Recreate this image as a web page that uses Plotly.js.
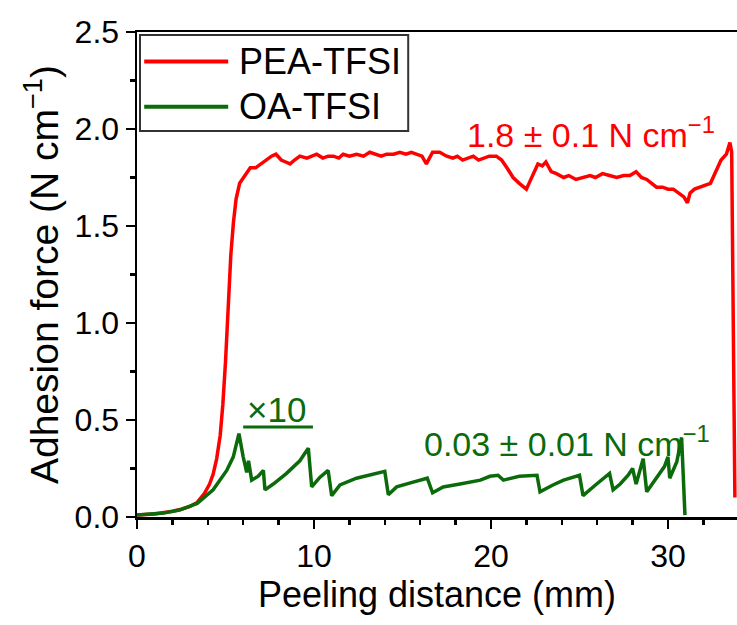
<!DOCTYPE html>
<html>
<head>
<meta charset="utf-8">
<script src="https://cdn.plot.ly/plotly-3.0.1.min.js"></script>
<style>html,body{margin:0;padding:0;background:#fff;}#chart{width:737px;height:625px;}</style>
</head>
<body>
<div id="chart"></div>
<script>
// Peeling distance (mm) and adhesion force (N cm^-1)
const peaX = [0, 1, 2, 2.5, 3, 3.4, 3.8, 4.1, 4.3, 4.5, 4.7, 4.85, 5.0, 5.15, 5.3, 5.45, 5.6, 5.8, 6.1, 6.4, 6.7, 7.0, 7.3, 7.6, 7.85, 8.15, 8.4, 8.65, 8.9, 9.2, 9.6, 9.9, 10.15, 10.5, 10.8, 11.1, 11.4, 11.65, 12.0, 12.4, 12.8, 13.15, 13.5, 13.8, 14.1, 14.5, 14.85, 15.2, 15.5, 15.8, 16.1, 16.35, 16.7, 17.1, 17.5, 17.85, 18.1, 18.4, 18.7, 19.0, 19.3, 19.55, 19.9, 20.3, 20.6, 20.9, 21.25, 21.6, 22.0, 22.2, 22.4, 22.65, 22.9, 23.1, 23.4, 23.7, 24.1, 24.4, 24.8, 25.2, 25.6, 25.9, 26.3, 26.7, 27.1, 27.5, 27.85, 28.2, 28.5, 28.8, 29.1, 29.35, 29.7, 30.0, 30.3, 30.7, 30.9, 31.1, 31.25, 31.5, 31.8, 32.1, 32.4, 32.6, 32.8, 33.0, 33.3, 33.5, 33.6, 33.65, 33.72, 33.78];
const peaY = [0.01, 0.015, 0.03, 0.04, 0.055, 0.075, 0.12, 0.17, 0.22, 0.3, 0.42, 0.58, 0.8, 1.1, 1.35, 1.52, 1.64, 1.72, 1.76, 1.8, 1.8, 1.82, 1.84, 1.86, 1.87, 1.84, 1.83, 1.82, 1.84, 1.86, 1.85, 1.86, 1.87, 1.85, 1.86, 1.86, 1.85, 1.87, 1.86, 1.87, 1.86, 1.88, 1.87, 1.86, 1.87, 1.87, 1.88, 1.87, 1.88, 1.87, 1.86, 1.82, 1.88, 1.88, 1.86, 1.85, 1.86, 1.84, 1.85, 1.86, 1.84, 1.85, 1.86, 1.86, 1.84, 1.8, 1.75, 1.72, 1.69, 1.73, 1.77, 1.82, 1.81, 1.83, 1.78, 1.77, 1.75, 1.76, 1.74, 1.75, 1.76, 1.75, 1.77, 1.76, 1.75, 1.76, 1.76, 1.78, 1.75, 1.74, 1.72, 1.7, 1.7, 1.69, 1.69, 1.66, 1.65, 1.62, 1.67, 1.69, 1.7, 1.71, 1.72, 1.76, 1.8, 1.84, 1.87, 1.93, 1.88, 1.46, 0.77, 0.1];
const oaX = [0, 1.5, 2.4, 3.4, 4.3, 5.07, 5.44, 5.76, 6.0, 6.2, 6.3, 6.48, 6.85, 7.14, 7.23, 7.7, 8.45, 9.2, 9.68, 9.87, 10.34, 10.8, 11.0, 11.47, 12.4, 13.16, 14.0, 14.2, 14.67, 15.6, 16.4, 16.7, 17.3, 18.25, 19.4, 19.94, 20.4, 20.7, 21.6, 22.6, 22.77, 23.5, 24.1, 25.0, 25.2, 25.97, 26.7, 26.9, 27.3, 27.75, 28.0, 28.2, 28.6, 28.8, 29.36, 29.8, 30.0, 30.1, 30.5, 30.77, 30.96];
const oaY = [0.01, 0.02, 0.036, 0.07, 0.14, 0.24, 0.31, 0.43, 0.31, 0.23, 0.29, 0.19, 0.21, 0.24, 0.14, 0.17, 0.225, 0.29, 0.355, 0.155, 0.205, 0.24, 0.11, 0.165, 0.2, 0.215, 0.235, 0.115, 0.155, 0.18, 0.2, 0.125, 0.155, 0.17, 0.19, 0.21, 0.215, 0.19, 0.21, 0.215, 0.13, 0.165, 0.19, 0.215, 0.11, 0.17, 0.225, 0.14, 0.17, 0.215, 0.25, 0.17, 0.30, 0.13, 0.2, 0.26, 0.31, 0.2, 0.285, 0.41, 0.01];
const seriesNames = ["PEA-TFSI", "OA-TFSI"];
const xTicks = [0, 10, 20, 30];
const yTicks = [0.0, 0.5, 1.0, 1.5, 2.0, 2.5];

const RED = "#ff0000", GREEN = "#0b6b0b";
const FONT = "Liberation Sans, Arial, sans-serif";

const traces = [
  {x: peaX, y: peaY, name: seriesNames[0], mode: "lines", line: {color: RED, width: 3.5}, showlegend: false},
  {x: oaX, y: oaY, name: seriesNames[1], mode: "lines", line: {color: GREEN, width: 3.5}, showlegend: false}
];

const layout = {
  width: 737, height: 625,
  margin: {l: 137, r: 0, t: 32, b: 108},
  paper_bgcolor: "#fff", plot_bgcolor: "#fff",
  font: {family: FONT, color: "#000"},
  showlegend: false,
  xaxis: {
    range: [0, 33.9], tickvals: xTicks, ticktext: xTicks.map(String),
    ticks: "outside", ticklen: 9, tickwidth: 2.5, tickcolor: "#000",
    minor: {dtick: 2, tick0: 0, ticks: "outside", ticklen: 5, tickwidth: 2.5, tickcolor: "#000"},
    showline: true, linewidth: 2.5, linecolor: "#000", mirror: true,
    showgrid: false, zeroline: false,
    tickfont: {size: 32, family: FONT},
    title: {text: "Peeling distance (mm)", font: {size: 36, family: FONT}, standoff: 8}
  },
  yaxis: {
    range: [0, 2.5], tickvals: yTicks, ticktext: yTicks.map(v => v.toFixed(1)),
    ticks: "outside", ticklen: 9, tickwidth: 2.5, tickcolor: "#000",
    minor: {dtick: 0.25, tick0: 0, ticks: "outside", ticklen: 5, tickwidth: 2.5, tickcolor: "#000"},
    showline: true, linewidth: 2.5, linecolor: "#000", mirror: false,
    showgrid: false, zeroline: false,
    tickfont: {size: 32, family: FONT},
    title: {text: "Adhesion force (N cm<sup>\u22121</sup>)", font: {size: 39, family: FONT}, standoff: 4}
  },
  shapes: [
    // legend frame
    {type: "rect", xref: "paper", yref: "paper", x0: 0.005, x1: 0.452, y0: 0.796, y1: 0.994, line: {color: "#333", width: 2}, fillcolor: "#fff"},
    {type: "line", xref: "paper", yref: "paper", x0: 0.012, x1: 0.152, y0: 0.939, y1: 0.939, line: {color: RED, width: 4}},
    {type: "line", xref: "paper", yref: "paper", x0: 0.012, x1: 0.152, y0: 0.846, y1: 0.846, line: {color: GREEN, width: 4}},
    // ×10 underline
    {type: "line", xref: "x", yref: "y", x0: 6.0, x1: 9.94, y0: 0.464, y1: 0.464, line: {color: GREEN, width: 3}}
  ],
  annotations: [
    {xref: "paper", yref: "paper", x: 0.167, y: 0.939, xanchor: "left", yanchor: "middle", showarrow: false, text: seriesNames[0], font: {size: 36, color: "#000", family: FONT}},
    {xref: "paper", yref: "paper", x: 0.167, y: 0.846, xanchor: "left", yanchor: "middle", showarrow: false, text: seriesNames[1], font: {size: 36, color: "#000", family: FONT}},
    {xref: "x", yref: "y", x: 25.65, y: 1.98, xanchor: "center", yanchor: "middle", showarrow: false, text: "1.8 \u00b1 0.1 N cm<sup>\u22121</sup>", font: {size: 34, color: RED, family: FONT}},
    {xref: "x", yref: "y", x: 24.3, y: 0.39, xanchor: "center", yanchor: "middle", showarrow: false, text: "0.03 \u00b1 0.01 N cm<sup>\u22121</sup>", font: {size: 34, color: GREEN, family: FONT}},
    {xref: "x", yref: "y", x: 7.9, y: 0.555, xanchor: "center", yanchor: "middle", showarrow: false, text: "\u00d710", font: {size: 35, color: GREEN, family: FONT}}
  ]
};

Plotly.newPlot("chart", traces, layout, {displayModeBar: false, staticPlot: true});
</script>
</body>
</html>
